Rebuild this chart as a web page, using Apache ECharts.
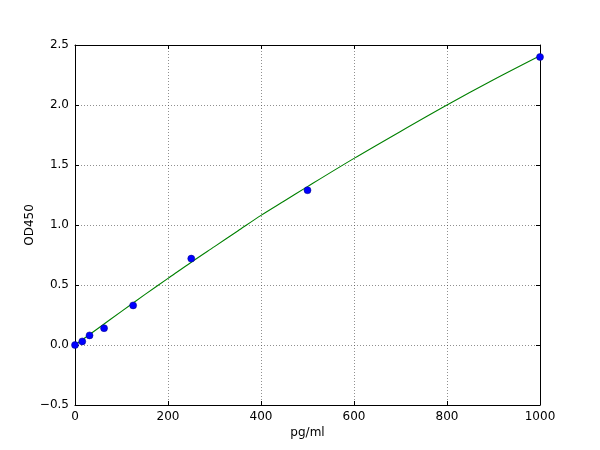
<!DOCTYPE html>
<html>
<head>
<meta charset="utf-8">
<script src="https://cdn.jsdelivr.net/npm/echarts@6/dist/echarts.min.js"></script>
<style>
  html, body { margin: 0; padding: 0; background: #fff; }
  #chart { width: 600px; height: 450px; }
</style>
</head>
<body>
<div id="chart"></div>
<script>
// measured standards
var conc = [0, 15.6, 31.25, 62.5, 125, 250, 500, 1000];
var od = [0.0, 0.03, 0.08, 0.14, 0.33, 0.72, 1.29, 2.40];

// fitted curve
var fitX = [0, 50, 100, 150, 200, 250, 300, 350, 400, 450, 500, 600, 700, 800, 900, 1000];
var fitY = [0.0, 0.14, 0.28, 0.42, 0.555, 0.69, 0.82, 0.95, 1.08, 1.20, 1.32, 1.555, 1.78, 2.0, 2.21, 2.41];

var xTicks = [0, 200, 400, 600, 800, 1000];
var yTicks = [-0.5, 0.0, 0.5, 1.0, 1.5, 2.0, 2.5];

function pairs(xs, ys) {
  return xs.map(function (x, i) { return [x, ys[i]]; });
}

var chart = echarts.init(document.getElementById('chart'));

var font = 'DejaVu Sans';
var tick = { show: true, inside: true, length: 4, lineStyle: { color: '#000', width: 1 } };
var frame = { show: true, onZero: false, lineStyle: { color: '#000', width: 1 } };
var grid = { show: true, lineStyle: { color: '#444', width: 0.6, type: [1, 2] } };

var option = {
  backgroundColor: '#fff',
  animation: false,
  textStyle: { fontFamily: font },
  grid: { left: 75, right: 60, top: 45, bottom: 45, containLabel: false },
  xAxis: [{
    type: 'value',
    min: xTicks[0],
    max: xTicks[xTicks.length - 1],
    interval: 200,
    name: 'pg/ml',
    nameLocation: 'middle',
    nameGap: 22,
    nameMoveOverlap: false,
    nameTextStyle: { color: '#000', fontSize: 12, fontFamily: font },
    axisLine: frame,
    axisTick: tick,
    axisLabel: {
      color: '#000', fontSize: 12, fontFamily: font, margin: 6,
      formatter: function (v) { return String(v); }
    },
    splitLine: grid
  }, {
    type: 'value',
    position: 'top',
    min: xTicks[0],
    max: xTicks[xTicks.length - 1],
    interval: 200,
    axisLine: frame,
    axisTick: tick,
    axisLabel: { show: false },
    splitLine: { show: false }
  }],
  yAxis: [{
    type: 'value',
    min: yTicks[0],
    max: yTicks[yTicks.length - 1],
    interval: 0.5,
    name: 'OD450',
    nameLocation: 'middle',
    nameGap: 39,
    nameMoveOverlap: false,
    nameTextStyle: { color: '#000', fontSize: 12, fontFamily: font },
    axisLine: frame,
    axisTick: tick,
    axisLabel: {
      color: '#000', fontSize: 12, fontFamily: font, margin: 6,
      formatter: function (v) { return v.toFixed(1).replace('-', '\u2212'); }
    },
    splitLine: grid
  }, {
    type: 'value',
    position: 'right',
    min: yTicks[0],
    max: yTicks[yTicks.length - 1],
    interval: 0.5,
    axisLine: frame,
    axisTick: tick,
    axisLabel: { show: false },
    splitLine: { show: false }
  }],
  series: [{
    name: 'fit',
    type: 'line',
    data: pairs(fitX, fitY),
    showSymbol: false,
    smooth: 0.3,
    lineStyle: { color: '#008000', width: 1.1 },
    z: 2
  }, {
    name: 'standards',
    type: 'scatter',
    data: pairs(conc, od),
    symbolSize: 7,
    itemStyle: { color: '#0000ff', opacity: 1, borderColor: '#000080', borderWidth: 0.5 },
    z: 3
  }]
};

chart.setOption(option);
</script>
</body>
</html>
